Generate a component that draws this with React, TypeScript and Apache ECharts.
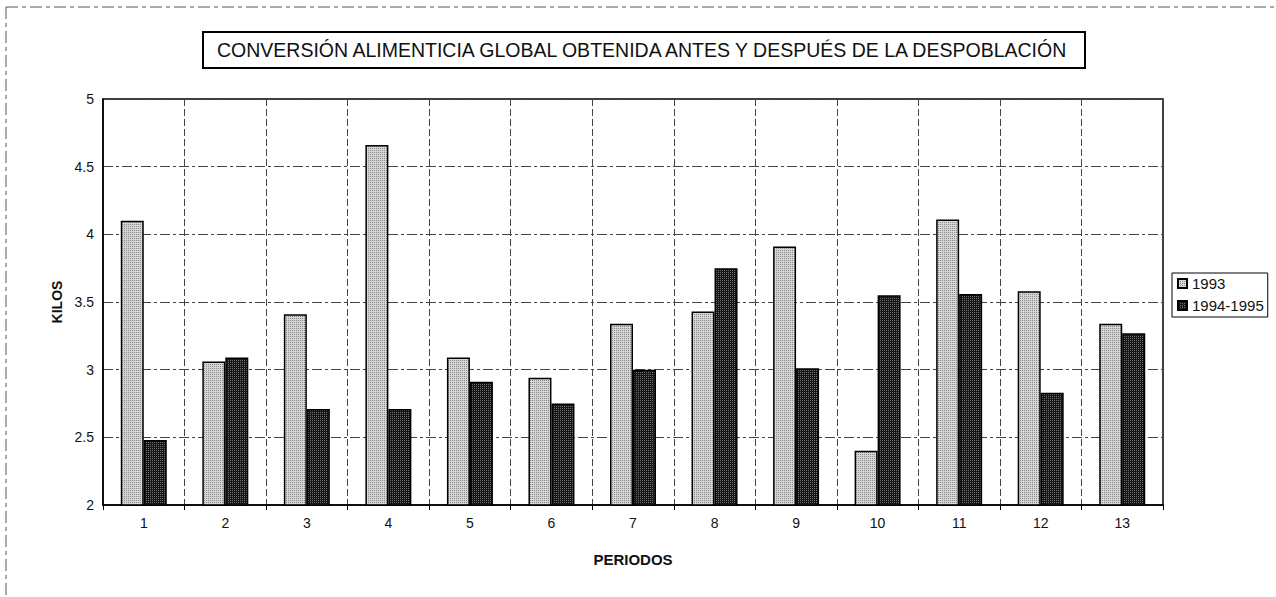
import React, { useEffect, useRef } from "react";
import * as echarts from "echarts";

const periods = ["1", "2", "3", "4", "5", "6", "7", "8", "9", "10", "11", "12", "13"];
const seriesNames = ["1993", "1994-1995"];
const values1993 = [4.1, 3.06, 3.41, 4.66, 3.09, 2.94, 3.34, 3.43, 3.91, 2.4, 4.11, 3.58, 3.34];
const values9495 = [2.48, 3.09, 2.71, 2.71, 2.91, 2.75, 3.0, 3.75, 3.01, 3.55, 3.56, 2.83, 3.27];
const yTicks = { min: 2, max: 5, interval: 0.5 };
const titleText = "CONVERSIÓN ALIMENTICIA GLOBAL OBTENIDA ANTES Y DESPUÉS DE LA DESPOBLACIÓN";

function makePattern(bg: string, fg: string): any {
  const c = document.createElement("canvas");
  c.width = 4;
  c.height = 4;
  const ctx = c.getContext("2d");
  if (!ctx) return bg;
  ctx.fillStyle = bg;
  ctx.fillRect(0, 0, 4, 4);
  ctx.fillStyle = fg;
  ctx.fillRect(0, 0, 1, 1);
  ctx.fillRect(2, 2, 1, 1);
  ctx.fillRect(2, 0, 1, 1);
  ctx.fillRect(0, 2, 1, 1);
  return { image: c, repeat: "repeat" };
}

export default function App() {
  const ref = useRef<HTMLDivElement>(null);
  useEffect(() => {
    if (!ref.current) return;
    const chart = echarts.init(ref.current, undefined, { renderer: "svg" });
    const light = makePattern("#d6d6d6", "#888888");
    const dark = makePattern("#161616", "#707070");
    const font = "'Liberation Sans', Arial, sans-serif";
    chart.setOption({
      animation: false,
      backgroundColor: "#ffffff",
      textStyle: { fontFamily: font, color: "#111" },
      title: {
        text: titleText,
        left: 203,
        top: 32,
        padding: [8, 12, 8, 14],
        borderColor: "#000",
        borderWidth: 2,
        textStyle: { fontFamily: font, fontSize: 19.5, fontWeight: "normal", color: "#111" },
      },
      legend: {
        orient: "vertical",
        left: 1172,
        top: 273,
        padding: [3, 4, 4, 5],
        itemGap: 7,
        itemWidth: 9,
        itemHeight: 9,
        icon: "rect",
        borderColor: "#000",
        borderWidth: 1,
        textStyle: { fontFamily: font, fontSize: 15, color: "#111" },
        data: seriesNames,
      },
      grid: {
        left: 103,
        right: 113,
        top: 99,
        bottom: 92,
        show: true,
        borderColor: "#000",
        borderWidth: 1.5,
      },
      xAxis: {
        type: "category",
        data: periods,
        name: "PERIODOS",
        nameLocation: "middle",
        nameGap: 47,
        nameTextStyle: { fontFamily: font, fontSize: 15, fontWeight: "bold", color: "#111" },
        axisLine: { show: true, lineStyle: { color: "#000", width: 1.5 } },
        axisTick: { show: true, length: 5, lineStyle: { color: "#000" } },
        axisLabel: { fontFamily: font, fontSize: 14, color: "#111", margin: 11 },
        splitLine: { show: true, lineStyle: { color: "#444", width: 1, type: [7, 3] } },
      },
      yAxis: {
        type: "value",
        min: yTicks.min,
        max: yTicks.max,
        interval: yTicks.interval,
        name: "KILOS",
        nameLocation: "middle",
        nameGap: 38,
        nameRotate: 90,
        nameTextStyle: { fontFamily: font, fontSize: 14, fontWeight: "bold", color: "#111" },
        axisLine: { show: true, lineStyle: { color: "#000", width: 1.5 } },
        axisTick: { show: false },
        axisLabel: { fontFamily: font, fontSize: 14, color: "#111", margin: 9 },
        splitLine: { show: true, lineStyle: { color: "#444", width: 1, type: [10, 3, 3, 3] } },
      },
      graphic: [
        {
          type: "line",
          shape: { x1: 6, y1: 7, x2: 1276, y2: 7 },
          style: { stroke: "#555", lineWidth: 1, lineDash: [12, 4, 4, 4] },
          silent: true,
        },
        {
          type: "line",
          shape: { x1: 6, y1: 7, x2: 6, y2: 597 },
          style: { stroke: "#555", lineWidth: 1, lineDash: [12, 4, 4, 4] },
          silent: true,
        },
      ],
      series: [
        {
          name: seriesNames[0],
          type: "bar",
          data: values1993,
          barWidth: 23,
          barGap: "0%",
          itemStyle: { color: light, borderColor: "#000", borderWidth: 1.5 },
        },
        {
          name: seriesNames[1],
          type: "bar",
          data: values9495,
          barWidth: 23,
          barGap: "0%",
          itemStyle: { color: dark, borderColor: "#000", borderWidth: 1.5 },
        },
      ],
    });
    return () => chart.dispose();
  }, []);
  return (
    <div
      ref={ref}
      style={{ position: "fixed", left: 0, top: 0, width: 1276, height: 597, background: "#fff" }}
    />
  );
}
